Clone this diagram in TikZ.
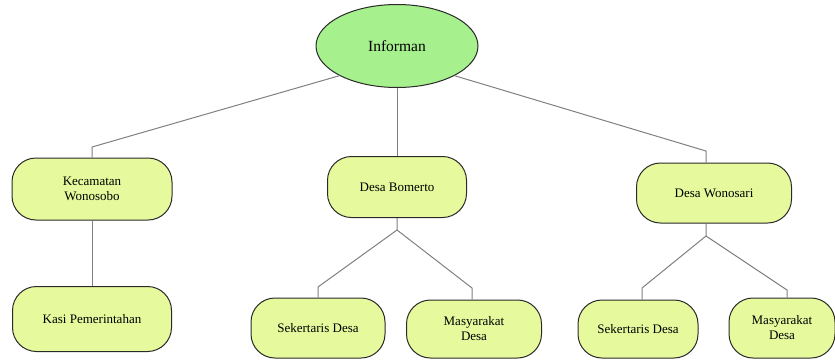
\documentclass[tikz,border=0pt]{standalone}
\usepackage{fontspec}
\setmainfont{Liberation Serif}
\usetikzlibrary{shapes.geometric}
\definecolor{boxfill}{HTML}{E6F99C}
\definecolor{ellfill}{HTML}{A6F08E}
\definecolor{linecol}{HTML}{808080}
\definecolor{bordercol}{HTML}{2A2A2A}
\begin{document}
\begin{tikzpicture}[x=1pt,y=-1pt,
  boxnode/.style={draw=bordercol, line width=1pt, fill=boxfill, rounded corners=24pt,
    align=center, inner sep=0pt, font=\fontsize{13}{15}\selectfont},
  ellnode/.style={ellipse, draw=bordercol, line width=1pt, fill=ellfill, inner sep=0pt,
    minimum width=162pt, minimum height=83pt, font=\fontsize{15.5}{18}\selectfont},
  conn/.style={draw=linecol, line width=1pt}]
\useasboundingbox (0,0) rectangle (835,360);
\node[ellnode] (inf) at (397,46) {Informan};
\node[boxnode, minimum width=160pt, minimum height=62pt] (kec) at (92,189) {Kecamatan\\Wonosobo};
\node[boxnode, minimum width=159pt, minimum height=65pt] (kasi) at (92,319) {Kasi Pemerintahan};
\node[boxnode, minimum width=139pt, minimum height=61pt] (bom) at (397,187) {Desa Bomerto};
\node[boxnode, minimum width=155pt, minimum height=60pt] (won) at (714,193) {Desa Wonosari};
\node[boxnode, minimum width=134pt, minimum height=60pt] (sek1) at (318,328) {Sekertaris Desa};
\node[boxnode, minimum width=135pt, minimum height=58pt] (mas1) at (474,329) {Masyarakat\\Desa};
\node[boxnode, minimum width=120pt, minimum height=58pt] (sek2) at (638,329) {Sekertaris Desa};
\node[boxnode, minimum width=106pt, minimum height=60pt] (mas2) at (782,328) {Masyarakat\\Desa};
\coordinate (kb) at (92,147);
\coordinate (wb) at (706,151);
\coordinate (bj) at (397,230);
\coordinate (bl) at (318,287);
\coordinate (br) at (472,288);
\coordinate (wj) at (706,236);
\coordinate (wl) at (642,288);
\coordinate (wr) at (787,290);
\draw[conn] (inf.south west) -- (kb) -- (kec.north);
\draw[conn] (inf.south) -- (bom.north);
\draw[conn] (inf.south east) -- (wb) -- (wb |- won.north);
\draw[conn] (kec.south) -- (kasi.north);
\draw[conn] (bom.south) -- (bj) -- (bl) -- (bl |- sek1.north);
\draw[conn] (bj) -- (br) -- (br |- mas1.north);
\draw[conn] (wj |- won.south) -- (wj) -- (wl) -- (wl |- sek2.north);
\draw[conn] (wj) -- (wr) -- (wr |- mas2.north);
\end{tikzpicture}
\end{document}
